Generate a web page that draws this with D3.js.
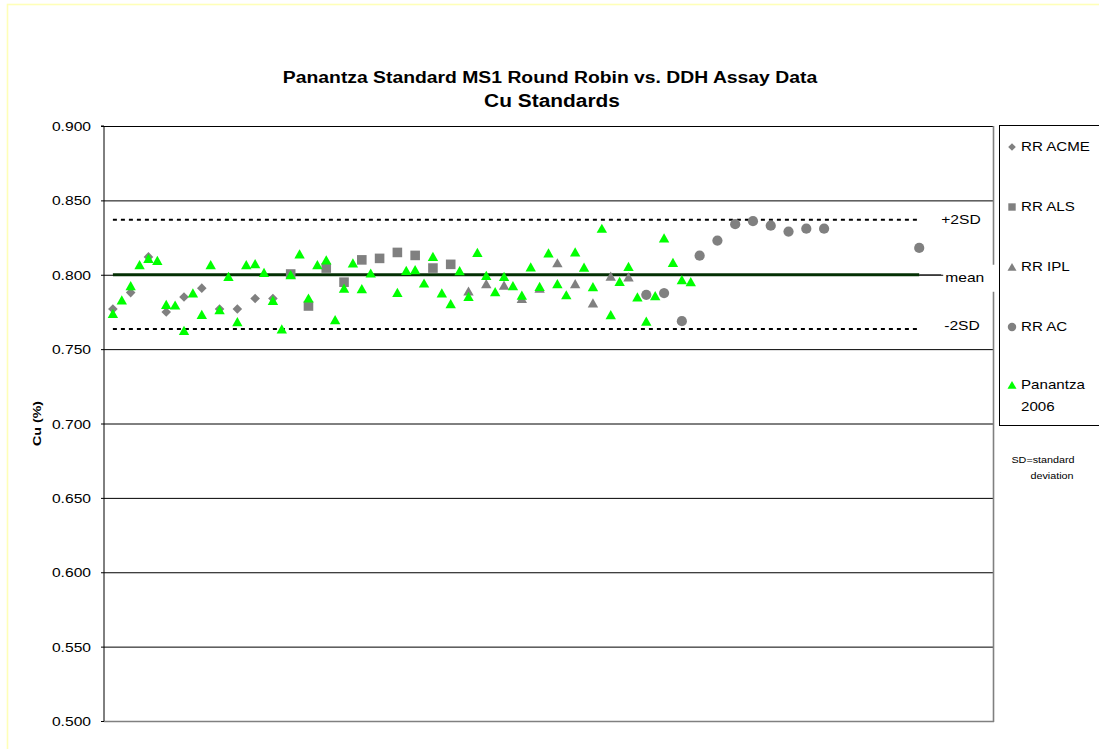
<!DOCTYPE html>
<html><head><meta charset="utf-8">
<script src="https://cdn.jsdelivr.net/npm/d3@7"></script>
<style>body{margin:0;background:#fff;} svg{display:block;font-family:"Liberation Sans",Arial,sans-serif;}</style>
</head><body>
<svg id="c" width="1099" height="749"></svg>
<script>
// ---------- data ----------
const yTicks = [0.500, 0.550, 0.600, 0.650, 0.700, 0.750, 0.800, 0.850, 0.900];
const seriesNames = ["RR ACME", "RR ALS", "RR IPL", "RR AC", "Panantza 2006"];

const acmeX = [1, 3, 5, 7, 9, 11, 13, 15, 17, 19];
const acmeY = [0.777, 0.788, 0.812, 0.775, 0.785, 0.791, 0.777, 0.777, 0.784, 0.784];

const alsX = [21, 23, 25, 27, 29, 31, 33, 35, 37, 39];
const alsY = [0.8005, 0.779, 0.8045, 0.795, 0.810, 0.811, 0.815, 0.813, 0.8045, 0.807];

const iplX = [41, 43, 45, 47, 49, 51, 53, 55, 57, 59];
const iplY = [0.789, 0.794, 0.793, 0.784, 0.791, 0.808, 0.794, 0.781, 0.799, 0.7985];

const acX = [61, 63, 65, 67, 69, 71, 73, 75, 77, 79, 81, 91.7];
const acY = [0.7865, 0.7877, 0.7688, 0.8128, 0.823, 0.834, 0.836, 0.833, 0.829, 0.831, 0.831, 0.818];

const panX = [1,2,3,4,5,6,7,8,9,10,11,12,13,14,15,16,17,18,19,20,21,22,23,24,25,26,27,28,29,30,
              33,34,35,36,37,38,39,40,41,42,43,44,45,46,47,48,49,50,51,52,53,54,55,56,57,58,59,60,61,62,63,64,65,66];
const panY = [0.774,0.783,0.7926,0.8067,0.811,0.8096,0.780,0.7796,0.7625,0.7877,0.7733,0.8067,0.7764,0.7989,0.7684,
              0.8067,0.8074,0.8015,0.7827,0.7635,0.800,0.814,0.7843,0.8067,0.810,0.7697,0.791,0.8079,0.7906,0.8011,
              0.7881,0.8029,0.8034,0.7944,0.8123,0.7877,0.7805,0.8027,0.7854,0.815,0.7995,0.7886,0.7989,0.7926,0.7863,
              0.8052,0.7921,0.8146,0.794,0.7865,0.8153,0.805,0.7919,0.8312,0.7731,0.7955,0.8056,0.785,0.7688,0.7859,
              0.8247,0.8083,0.7966,0.7953];

const refX = [1, 91.7];
const meanVal = 0.800;
const plus2SD = 0.837;
const minus2SD = 0.7635;

// ---------- layout ----------
const SX = 1.24; // horizontal stretch of the reference's wide type
const L = 104, R = 993, T = 126, B = 721;
const svg = d3.select('#c');
const x = d3.scaleLinear().domain([0, 100]).range([L, R]);
const y = d3.scaleLinear().domain([0.5, 0.9]).range([B, T]);

function stext(parent, px, py, str, o) {
  o = o || {};
  const sx = o.sx || SX;
  const g = parent.append('g').attr('transform', `translate(${px},${py})${o.rot ? ' rotate(' + o.rot + ')' : ''} scale(${sx},1)`);
  return g.append('text').attr('x', 0).attr('y', 0)
    .attr('text-anchor', o.anchor || 'start')
    .attr('font-size', o.size || 12.6)
    .attr('font-weight', o.bold ? 'bold' : 'normal')
    .attr('fill', '#000').text(str);
}

svg.append('rect').attr('width', 1099).attr('height', 749).attr('fill', '#fff');
svg.append('rect').attr('x', 7.5).attr('y', 4.5).attr('width', 1200).attr('height', 900)
  .attr('fill', 'none').attr('stroke', '#ffffb8').attr('stroke-width', 1.6);

// titles
stext(svg, 550, 82.5, 'Panantza Standard MS1 Round Robin vs. DDH Assay Data', {anchor: 'middle', size: 15.6, bold: true});
stext(svg, 552, 106.5, 'Cu Standards', {anchor: 'middle', size: 18.5, bold: true, sx: 1.13});

// plot area
svg.append('rect').attr('x', L).attr('y', T).attr('width', R - L).attr('height', B - T).attr('fill', '#fff');

// gridlines
const grid = svg.append('g').attr('transform', `translate(${L},0)`)
  .call(d3.axisLeft(y).tickValues(yTicks).tickSize(-(R - L)).tickFormat(''));
grid.select('.domain').remove();
grid.selectAll('line').attr('stroke', '#000').attr('stroke-width', 1);

// plot borders (right, bottom)
svg.append('line').attr('x1', R + 0.5).attr('x2', R + 0.5).attr('y1', T).attr('y2', B + 1)
  .attr('stroke', '#808080').attr('stroke-width', 1.6);
svg.append('line').attr('x1', L).attr('x2', R + 1).attr('y1', B + 0.5).attr('y2', B + 0.5)
  .attr('stroke', '#808080').attr('stroke-width', 1.6);

// reference lines
const line = d3.line().x(d => x(d[0])).y(d => y(d[1]));
svg.append('path').datum(refX.map(v => [v, plus2SD])).attr('d', line)
  .attr('fill', 'none').attr('stroke', '#000').attr('stroke-width', 2).attr('stroke-dasharray', '4,4');
svg.append('path').datum(refX.map(v => [v, minus2SD])).attr('d', line)
  .attr('fill', 'none').attr('stroke', '#000').attr('stroke-width', 2).attr('stroke-dasharray', '4,4');
svg.append('path').datum(refX.map(v => [v, meanVal])).attr('d', line)
  .attr('fill', 'none').attr('stroke', '#043004').attr('stroke-width', 3.2);

// reference labels
const xEnd = x(refX[1]);
svg.append('line').attr('x1', xEnd).attr('x2', xEnd + 22).attr('y1', y(meanVal)).attr('y2', y(meanVal))
  .attr('stroke', '#333').attr('stroke-width', 1);
svg.append('rect').attr('x', xEnd + 24).attr('y', y(meanVal) - 10).attr('width', 52).attr('height', 27).attr('fill', '#fff');
stext(svg, xEnd + 26, y(meanVal) + 7, 'mean');
stext(svg, xEnd + 22, y(plus2SD) + 4, '+2SD');
stext(svg, xEnd + 25, y(minus2SD) + 1, '-2SD');

// markers
const shapes = {
  diamond: 'M0,-4.8L4.8,0L0,4.8L-4.8,0Z',
  square: 'M-4.8,-4.8H4.8V4.8H-4.8Z',
  triangle: 'M0,-4.7L5.2,4.5L-5.2,4.5Z',
  circle: d3.symbol(d3.symbolCircle, 82)()
};
function drawSeries(xs, ys, shape, color) {
  svg.append('g').selectAll('path').data(xs.map((v, i) => [v, ys[i]])).join('path')
    .attr('transform', d => `translate(${x(d[0])},${y(d[1])})`)
    .attr('d', shapes[shape]).attr('fill', color);
}
drawSeries(acmeX, acmeY, 'diamond', '#808080');
drawSeries(alsX, alsY, 'square', '#808080');
drawSeries(iplX, iplY, 'triangle', '#808080');
drawSeries(acX, acY, 'circle', '#808080');
drawSeries(panX, panY, 'triangle', '#00ff00');

// y axis
const yAxis = svg.append('g').attr('transform', `translate(${L},0)`)
  .call(d3.axisLeft(y).tickValues(yTicks).tickSize(3).tickPadding(0).tickFormat(d3.format('.3f')));
yAxis.select('.domain').attr('stroke', '#000').attr('d', `M-3,${T}H0V${B}`);
yAxis.selectAll('line').attr('stroke', '#000');
yAxis.selectAll('text').attr('font-family', '"Liberation Sans",Arial,sans-serif').attr('font-size', 12.6)
  .attr('fill', '#000').attr('dy', null).attr('y', 4.5)
  .attr('x', -13 / SX).attr('transform', `scale(${SX},1)`);

stext(svg, 41, (T + B) / 2, 'Cu (%)', {anchor: 'middle', size: 11.5, bold: true, rot: -90});

// legend
svg.append('rect').attr('x', 999.5).attr('y', 125.5).attr('width', 140).attr('height', 300)
  .attr('fill', '#fff').attr('stroke', '#000').attr('stroke-width', 1);
const legShapes = {
  diamond: 'M0,-3.8L3.8,0L0,3.8L-3.8,0Z',
  square: 'M-3.7,-3.7H3.7V3.7H-3.7Z',
  triangle: 'M0,-4L4.5,3.8L-4.5,3.8Z',
  circle: d3.symbol(d3.symbolCircle, 56)()
};
const legItems = [
  {name: seriesNames[0], shape: 'diamond', color: '#808080', cy: 147},
  {name: seriesNames[1], shape: 'square', color: '#808080', cy: 207},
  {name: seriesNames[2], shape: 'triangle', color: '#808080', cy: 267},
  {name: seriesNames[3], shape: 'circle', color: '#808080', cy: 327},
  {name: seriesNames[4], shape: 'triangle', color: '#00ff00', cy: 385}
];
legItems.forEach(it => {
  svg.append('path').attr('transform', `translate(1012,${it.cy})`).attr('d', legShapes[it.shape]).attr('fill', it.color);
  const parts = it.name === 'Panantza 2006' ? ['Panantza', '2006'] : [it.name];
  parts.forEach((p, k) => stext(svg, 1021, it.cy + 4.4 + k * 21.7, p, {size: 12.2}));
});

stext(svg, 1043, 463, 'SD=standard', {anchor: 'middle', size: 8.7});
stext(svg, 1052, 478.5, 'deviation', {anchor: 'middle', size: 8.7});
</script>
</body></html>
